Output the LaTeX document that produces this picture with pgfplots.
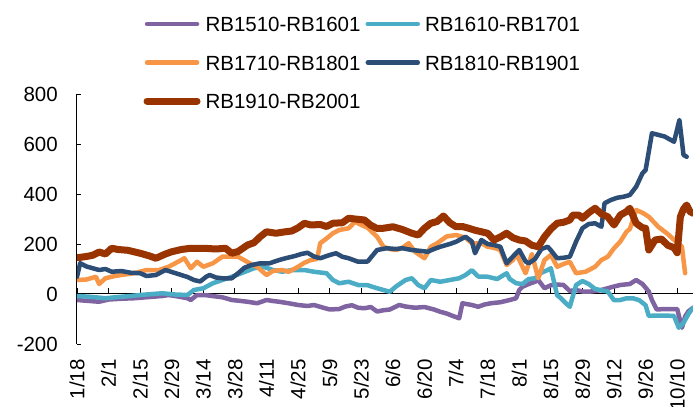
\documentclass[border=0pt]{standalone}
\usepackage{fontspec}
\setmainfont{Liberation Sans}
\usepackage{pgfplots}
\pgfplotsset{compat=1.18}
\definecolor{cPur}{HTML}{8064A2}
\definecolor{cCya}{HTML}{4BACC6}
\definecolor{cOra}{HTML}{F79646}
\definecolor{cBlu}{HTML}{2C4D75}
\definecolor{cBro}{HTML}{993300}
\newcommand{\ff}{\fontsize{20.5bp}{24bp}\selectfont}
\begin{document}
\begin{tikzpicture}
\path[use as bounding box] (-77bp,-63bp) rectangle (616bp,344bp);
% zero line with ticks
\begin{axis}[
  at={(0,0)}, anchor=south west,
  scale only axis, width=616bp, height=250bp,
  xmin=0, xmax=195, ymin=-200, ymax=800,
  axis x line=middle, axis y line=none,
  x axis line style={-, line width=1bp},
  xtick={0,10,...,190}, xticklabels={},
  xtick align=inside, major tick length=6bp,
  xtick style={line width=1bp, black},
  hide obscured x ticks=false,
]
\end{axis}
\begin{axis}[
  at={(0,0)}, anchor=south west,
  scale only axis, width=616bp, height=250bp,
  xmin=0, xmax=195, ymin=-200, ymax=800,
  axis y line=left, axis x line=bottom,
  x axis line style={draw=none},
  y axis line style={-, line width=1bp},
  xtick={0,10,...,190},
  xticklabels={1/18,2/1,2/15,2/29,3/14,3/28,4/11,4/25,5/9,5/23,6/6,6/20,7/4,7/18,8/1,8/15,8/29,9/12,9/26,10/10},
  xtick style={draw=none},
  ytick={-200,0,200,400,600,800},
  ytick align=inside, major tick length=4bp,
  ytick style={line width=1bp, black},
  /pgf/number format/assume math mode=true,
  ticklabel style={font=\ff},
  xticklabel style={rotate=90, anchor=east, inner xsep=13bp},
  yticklabel style={anchor=east, inner xsep=19bp},
  legend columns=2,
  legend cell align=left,
  legend image code/.code={\draw[#1, line cap=round] (0bp,0bp) -- (50bp,0bp);},
  legend style={draw=none, fill=none, inner sep=0pt, outer sep=0pt,
    at={(0.1080,1.310)}, anchor=north west, font=\ff,
    nodes={inner sep=0pt, text height=15bp, text depth=0pt},
    row sep=23.5bp,
    /tikz/every odd column/.append style={column sep=5bp},
    /tikz/every even column/.append style={column sep=5bp}},
  every axis plot/.append style={line join=round, line cap=round},
]
\addplot[cPur, line width=4.5bp] coordinates {
(0,-24)(3,-27)(7,-31)(10,-22)(14,-19)(18,-17)(21,-14)(24,-11)(27,-8)(29,-4)(32,-10)(35,-17)(36,-24)(38,-4)(41,-5)(44,-10)(46,-13)(49,-24)(52,-28)(54,-31)(57,-37)(60,-24)(62,-28)(64,-31)(67,-37)(70,-44)(73,-48)(75,-44)(78,-55)(80,-62)(83,-60)(85,-50)(87,-45)(89,-55)(91,-57)(93,-52)(95,-70)(97,-65)(99,-62)(102,-44)(104,-50)(107,-55)(110,-52)(113,-62)(115,-71)(117,-78)(119,-88)(121,-97)(122,-37)(125,-44)(127,-51)(129,-42)(131,-37)(134,-33)(137,-24)(139,-17)(140,16)(141,29)(143,40)(145,49)(146,56)(148,23)(150,35)(152,38)(154,36)(156,12)(158,16)(160,10)(162,9)(164,12)(166,16)(168,23)(170,30)(172,36)(175,40)(177,56)(179,40)(181,10)(182,-24)(183.5,-62)(186,-60)(190,-60)(191.5,-135)(192.5,-90)(193.5,-70)(195,-55)
};
\addlegendentry{RB1510-RB1601}
\addplot[cCya, line width=4.5bp] coordinates {
(0,-8)(4,-11)(9,-17)(13,-12)(17,-8)(20,-4)(24,0)(27,3)(31,-2)(35,-4)(37,16)(40,23)(43,43)(46,56)(49,69)(52,83)(56,103)(59,109)(62,96)(65,89)(68,96)(72,96)(75,89)(79,83)(81,56)(83,43)(86,49)(89,36)(92,35)(95,23)(97,16)(99,9)(101,30)(104,56)(106,63)(108,36)(110,23)(112,56)(115,49)(118,56)(121,63)(123,76)(125,95)(127,70)(130,69)(133,60)(136,83)(137,60)(139,43)(141,40)(143,60)(145,63)(147,85)(149,96)(150,103)(152,-5)(153,-15)(155,-40)(156,-51)(158,36)(160,52)(162,40)(164,20)(166,15)(168,10)(170,-25)(172,-24)(174,-17)(176,-17)(178,-25)(180,-45)(181,-88)(183,-86)(186,-86)(189,-88)(190.5,-135)(192,-115)(193.7,-77)(195,-55)
};
\addlegendentry{RB1610-RB1701}
\addplot[cOra, line width=4.5bp] coordinates {
(0,56)(3,58)(6,69)(7,40)(9,63)(12,72)(14,76)(18,83)(22,96)(26,96)(29,109)(32,129)(34,143)(36,103)(38,129)(40,109)(43,123)(46,149)(48,150)(51,149)(53,135)(55,120)(57,109)(60,76)(62,92)(65,96)(67,89)(70,109)(72,125)(74,136)(76,140)(77,203)(79,222)(81,243)(83,256)(86,263)(88,289)(90,276)(92,265)(95,229)(97,189)(99,180)(101,176)(103,185)(105,203)(107,169)(110,143)(112,189)(114,203)(117,230)(120,236)(123,225)(125,203)(128,203)(130,189)(132,185)(134,176)(136,116)(138,136)(139,163)(141,110)(142,83)(144,160)(146,63)(148,136)(150,156)(152,109)(154,120)(156,129)(158,83)(161,89)(164,109)(166,136)(168,149)(170,183)(172,210)(174,250)(175,260)(177,336)(179,325)(181,309)(184,269)(187,240)(190,205)(191.5,189)(192.5,83)
};
\addlegendentry{RB1710-RB1801}
\addplot[cBlu, line width=4.5bp] coordinates {
(0,69)(1,123)(3,110)(5,103)(7,96)(9,100)(11,89)(14,92)(17,85)(20,83)(22,72)(25,76)(28,96)(30,88)(33,76)(35,68)(37,56)(39,50)(41,70)(42,76)(44,66)(46,63)(49,63)(51,83)(53,105)(55,115)(58,123)(61,123)(64,136)(66,143)(69,152)(71,160)(73,165)(75,150)(77,143)(80,156)(82,163)(84,149)(86,143)(89,129)(92,130)(95,176)(98,183)(101,180)(103,183)(106,176)(109,172)(111,169)(113,180)(115,189)(118,200)(120,209)(123,229)(125,210)(126,163)(128,216)(130,200)(132,196)(134,189)(136,123)(138,150)(140,176)(142,130)(143,123)(145,140)(147,180)(149,189)(150,175)(152,143)(154,145)(156,149)(158,210)(160,263)(162,280)(164,283)(166,269)(167,363)(169,376)(171,385)(173,389)(175,396)(177,429)(179,483)(180,496)(182,643)(186,630)(189,609)(190.7,696)(192,556)(193,549)
};
\addlegendentry{RB1810-RB1901}
\addplot[cBro, line width=7bp] coordinates {
(0,145)(3,150)(5,155)(7,168)(9,160)(11,183)(13,178)(16,175)(20,163)(23,152)(25,143)(28,160)(30,169)(33,178)(36,183)(40,183)(44,180)(47,183)(49,163)(51,170)(54,196)(56,205)(58,229)(60,249)(63,243)(66,249)(68,252)(70,265)(72,283)(74,276)(77,278)(79,270)(81,283)(84,285)(86,303)(88,300)(91,296)(93,275)(95,262)(97,263)(100,269)(103,258)(106,243)(108,236)(110,263)(112,283)(114,290)(116,312)(118,285)(120,269)(122,270)(124,263)(126,255)(128,249)(130,243)(132,216)(134,228)(136,243)(138,225)(140,216)(142,212)(144,195)(146,189)(148,229)(150,260)(152,283)(154,287)(156,296)(157,316)(159,315)(160,303)(162,325)(164,343)(166,320)(168,309)(170,276)(172,316)(174,330)(175,343)(177,283)(179,265)(180,263)(181,176)(183,216)(185,220)(187,195)(189,185)(190,165)(191,309)(192,340)(193,356)(194,330)(195,323)
};
\addlegendentry{RB1910-RB2001}
\end{axis}
\end{tikzpicture}
\end{document}
